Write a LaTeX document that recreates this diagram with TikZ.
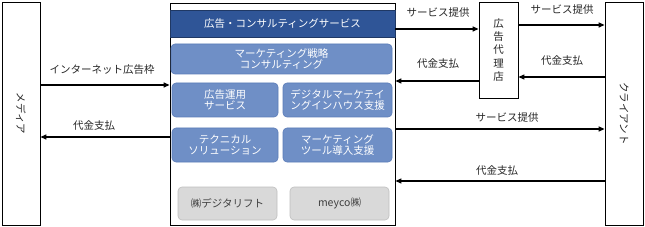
\documentclass[tikz,border=0pt]{standalone}
\usepackage{fontspec}
\setmainfont{Noto Sans CJK JP}
\usetikzlibrary{arrows.meta}
\definecolor{hdrblue}{HTML}{2F5597}
\definecolor{hdrline}{HTML}{1F3864}
\definecolor{boxblue}{HTML}{6F8FC6}
\definecolor{boxline}{HTML}{5B7CB8}
\definecolor{grayfill}{HTML}{D9D9D9}
\definecolor{grayline}{HTML}{BFBFBF}
\definecolor{txtgray}{HTML}{404040}
\definecolor{lblcol}{HTML}{262626}
\tikzset{
  plainbox/.style={draw=black, line width=0.8pt, fill=white, inner sep=0pt},
  hdrbox/.style={draw=hdrline, line width=0.8pt, fill=hdrblue, text=white, inner sep=0pt, font=\fontsize{10.5}{12}\selectfont},
  bluebox/.style={draw=boxline, line width=0.6pt, fill=boxblue, rounded corners=4pt, text=white, inner sep=0pt, align=center, font=\fontsize{10.5}{11.5}\selectfont},
  graybox/.style={draw=grayline, line width=0.6pt, fill=grayfill, rounded corners=4pt, text=txtgray, inner sep=0pt, font=\fontsize{10.5}{12}\selectfont},
  arr/.style={draw=black, line width=1.2pt, -{Triangle[length=6pt,width=5pt]}},
  lbl/.style={text=lblcol, inner sep=0pt, font=\fontsize{10.5}{12}\selectfont},
  vtext/.style={text=lblcol, inner sep=0pt, font=\fontsize{10.5}{12}\selectfont},
}
\begin{document}
\begin{tikzpicture}[x=1pt,y=-1pt]
\useasboundingbox (0,0) rectangle (645,227);
% main columns
\node[plainbox, minimum width=38pt, minimum height=223pt] (media) at (21,113.5) {};
\node[vtext, rotate=-90] (medialbl) at (media.center) {メディア};
\node[plainbox, minimum width=225pt, minimum height=222pt] (main) at (282.5,114) {};
\node[plainbox, minimum width=39pt, minimum height=96pt] (agency) at (498.5,50) {};
\node[vtext, align=center, font=\fontsize{10.5}{13.3}\selectfont] (agencylbl) at (agency.center) {広\\告\\代\\理\\店};
\node[plainbox, minimum width=38pt, minimum height=223pt] (client) at (624,113.5) {};
\node[vtext, rotate=-90] (clientlbl) at (client.center) {クライアント};
% inside main
\node[hdrbox, minimum width=225pt, minimum height=27pt] (hdr) at (282.5,23.5) {広告・コンサルティングサービス};
\node[bluebox, minimum width=221pt, minimum height=30pt] (mkt) at (281.5,59) {マーケティング戦略\\コンサルティング};
\node[bluebox, minimum width=106pt, minimum height=34pt] (ops) at (225,100) {広告運用\\サービス};
\node[bluebox, minimum width=109pt, minimum height=34pt] (dig) at (337.5,100) {デジタルマーケテイ\\ングインハウス支援};
\node[bluebox, minimum width=106pt, minimum height=34pt] (tech) at (225,145) {テクニカル\\ソリューション};
\node[bluebox, minimum width=109pt, minimum height=34pt] (tool) at (337.5,145) {マーケティング\\ツール導入支援};
\node[graybox, minimum width=99pt, minimum height=33pt] (dl) at (227.5,203.5) {㈱デジタリフト};
\node[graybox, minimum width=99pt, minimum height=33pt] (mey) at (339.5,203.5) {meyco㈱};
% connectors
\draw[arr] ([yshift=28.5pt]media.east) coordinate (a1) -- (a1 -| main.west);
\draw[arr] ([yshift=-23pt]main.west) coordinate (a2) -- (a2 -| media.east);
\draw[arr] ([yshift=85pt]main.east) coordinate (a3) -- (a3 -| agency.west);
\draw[arr] ([yshift=-31pt]agency.west) coordinate (a4) -- (a4 -| main.east);
\draw[arr] ([yshift=25pt]agency.east) coordinate (a5) -- (a5 -| client.west);
\draw[arr] ([yshift=36.5pt]client.west) coordinate (a6) -- (a6 -| agency.east);
\draw[arr] ([yshift=-15pt]main.east) coordinate (a7) -- (a7 -| client.west);
\draw[arr] ([yshift=-67.5pt]client.west) coordinate (a8) -- (a8 -| main.east);
% labels
\node[lbl] (l1) at (102,70) {インターネット広告枠};
\node[lbl] (l2) at (94,126) {代金支払};
\node[lbl] (l3) at (438,13) {サービス提供};
\node[lbl] (l4) at (438,64) {代金支払};
\node[lbl] (l5) at (562,10) {サービス提供};
\node[lbl] (l6) at (562,61) {代金支払};
\node[lbl] (l7) at (507,118) {サービス提供};
\node[lbl] (l8) at (497,171) {代金支払};
\end{tikzpicture}
\end{document}
